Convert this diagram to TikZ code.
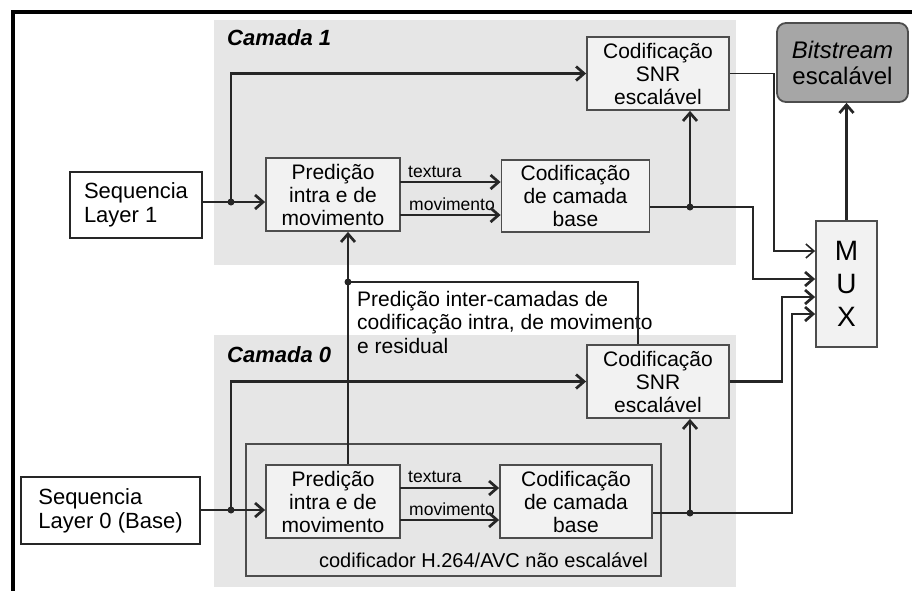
\documentclass[tikz,border=0pt]{standalone}
\usepackage{fontspec}
\setmainfont{Liberation Sans}
\usetikzlibrary{arrows.meta}
\definecolor{bgcam}{HTML}{E6E6E6}
\definecolor{boxfill}{HTML}{F2F2F2}
\definecolor{bitfill}{HTML}{A6A6A6}
\definecolor{edge}{HTML}{4D4D4D}
\definecolor{wirec}{HTML}{262626}
\newcommand{\fs}[2]{\fontsize{#1}{#2}\selectfont}
\begin{document}
\begin{tikzpicture}[x=1pt,y=-1pt,
    blk/.style={draw=edge,line width=1.8pt,fill=boxfill,inner sep=0pt,align=center,font=\fs{21}{23}},
    src/.style={draw=black!85,line width=1.5pt,fill=white,inner sep=0pt,align=left,font=\fs{22}{24}},
    lbl/.style={inner sep=0pt,font=\fs{17.5}{19}},
    cam/.style={inner sep=0pt,font=\fs{22}{24}\bfseries\itshape},
    ln/.style={draw=wirec,line width=2.7pt},
    arr/.style={ln,-{Straight Barb[length=8pt,width=14pt]}},
    fine/.style={line width=1.6pt}]
        \useasboundingbox (0,0) rectangle (912,590);
        \fill[bgcam] (214,20) rectangle (736,265);
        \fill[bgcam] (214,335) rectangle (736,587);
        \draw[line width=4pt] (13,592) -- (13,12) -- (914,12);
        \draw[draw=edge,line width=1.8pt] (246,444) rectangle (661,576);

        \node[cam,anchor=west] (cam1) at (227,38) {Camada 1};
        \node[cam,anchor=west] (cam0) at (227,355) {Camada 0};

        \node[src,minimum width=132pt,minimum height=66pt] (seq1) at (136,205) {Sequencia\\Layer 1};
        \node[src,minimum width=179pt,minimum height=67pt] (seq0) at (110.5,510.5) {Sequencia\\Layer 0 (Base)};
        \node[blk,minimum width=134pt,minimum height=73pt] (pred1) at (333,194.5) {Predição\\intra e de\\movimento};
        \node[blk,minimum width=134pt,minimum height=73pt] (pred0) at (333,501.5) {Predição\\intra e de\\movimento};
        \node[blk,minimum width=148pt,minimum height=72pt] (base1) at (575.5,196) {Codificação\\de camada\\base};
        \node[blk,minimum width=152pt,minimum height=73pt] (base0) at (576,501.5) {Codificação\\de camada\\base};
        \node[blk,minimum width=142pt,minimum height=73pt] (snr1) at (658,73.5) {Codificação\\SNR\\escalável};
        \node[blk,minimum width=142pt,minimum height=73pt] (snr0) at (658,381.5) {Codificação\\SNR\\escalável};
        \node[blk,fill=bitfill,rounded corners=9pt,minimum width=131pt,minimum height=79pt,font=\fs{24}{26}] (bits) at (842.5,62.5) {\textit{Bitstream}\\escalável};
        \node[blk,minimum width=61pt,minimum height=126pt,font=\fs{28}{33}] (mux) at (846.5,284) {M\\U\\X};
        \node[anchor=north west,inner sep=0pt,align=left,font=\fs{21}{23.5}] (inter) at (357,291) {Predição inter-camadas de\\codificação intra, de movimento\\e residual};
        \node[anchor=east,inner sep=0pt,font=\fs{20}{22}] (h264) at (648,560) {codificador H.264/AVC não escalável};

        \coordinate (j1) at (231,202);
        \coordinate (j2) at (690,207);
        \coordinate (j0) at (231,510);
        \coordinate (j3) at (690,513);
        \coordinate (jx) at (348,282);
        \coordinate (t1) at (400,182);
        \coordinate (m1) at (400,215);
        \coordinate (t0) at (400,488);
        \coordinate (m0) at (400,520);
        \coordinate (in1) at ([yshift=33pt]mux.west);
        \coordinate (in2) at ([yshift=5pt]mux.west);
        \coordinate (in3) at ([yshift=-13pt]mux.west);
        \coordinate (in4) at ([yshift=-30pt]mux.west);

        \node[lbl,anchor=base west] (tx1) at ([xshift=8pt,yshift=5pt]t1) {textura};
        \node[lbl,anchor=base west] (mv1) at ([xshift=9pt,yshift=5pt]m1) {movimento};
        \node[lbl,anchor=base west] (tx0) at ([xshift=8pt,yshift=6pt]t0) {textura};
        \node[lbl,anchor=base west] (mv0) at ([xshift=9pt,yshift=5pt]m0) {movimento};

        \draw[ln] (seq1.east |- j1) -- (j1);
        \draw[arr] (j1) -- (j1 -| pred1.west);
        \draw[arr] (j1) |- (snr1.west);
        \draw[arr] (t1) -- (t1 -| base1.west);
        \draw[arr] (m1) -- (m1 -| base1.west);
        \draw[ln] (j2 -| base1.east) -- (j2);
        \draw[arr] (j2) -- (j2 |- snr1.south);
        \draw[arr] (j2) -- ++(63,0) |- (in2);
        \draw[arr,fine] (snr1.east) -- ++(44,0) |- (in1);

        \draw[ln] (seq0.east |- j0) -- (j0);
        \draw[arr] (j0) -- (j0 -| pred0.west);
        \draw[arr] (j0) |- (snr0.west);
        \draw[arr] (t0) -- (t0 -| base0.west);
        \draw[arr] (m0) -- (m0 -| base0.west);
        \draw[ln] (j3 -| base0.east) -- (j3);
        \draw[arr] (j3) -- (j3 |- snr0.south);
        \draw[arr] (j3) -- ++(102,0) |- (in4);
        \draw[arr] (snr0.east) -- ++(52,0) |- (in3);

        \draw[arr] (mux.north) -- (mux.north |- bits.south);
        \draw[arr] (jx |- pred0.north) -- (jx |- pred1.south);
        \draw[ln,fine] (jx) -- ++(290,0) coordinate (cr) -- (cr |- snr0.north);

        \foreach \j in {j1,j2,j0,j3,jx}
            \fill[wirec] (\j) circle (3.5pt);
\end{tikzpicture}
\end{document}
